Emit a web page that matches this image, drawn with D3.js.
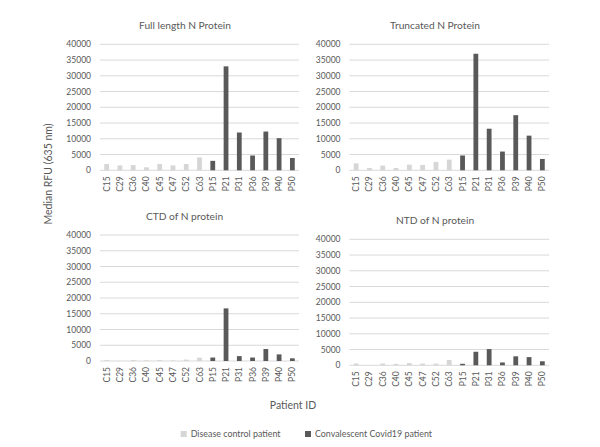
<!DOCTYPE html>
<html>
<head>
<meta charset="utf-8">
<script src="https://cdn.jsdelivr.net/npm/d3@7"></script>
<style>
  body { margin: 0; background: #fff; }
  #wrapper { width: 600px; height: 447px; }
  text { font-family: Lato, "Open Sans", sans-serif; fill: #595959; }
</style>
</head>
<body>
<div id="wrapper"></div>
<script>

// patients (C = disease control, P = convalescent covid19)
const patients = ["C15", "C29", "C36", "C40", "C45", "C47", "C52", "C63",
                  "P15", "P21", "P31", "P36", "P39", "P40", "P50"]
const yTicks = [0, 5000, 10000, 15000, 20000, 25000, 30000, 35000, 40000]

// median RFU values
const fullLength = [2000, 1550, 1650, 950, 2000, 1550, 2000, 4100, 3000, 33000, 12000, 4700, 12300, 10200, 3900]
const truncated  = [2200, 750, 1500, 750, 1800, 1700, 2650, 3400, 4700, 37000, 13200, 5950, 17500, 11000, 3600]
const ctd        = [250, 50, 300, 200, 300, 150, 450, 1050, 1100, 16700, 1550, 1100, 3800, 2100, 850]
const ntd        = [550, 100, 550, 450, 700, 530, 530, 1700, 480, 4300, 5150, 900, 2850, 2600, 1280]

const legendLabels = ["Disease control patient", "Convalescent Covid19 patient"]

function drawPanels() {

  const width = 600
  const height = 447
  const lightColor = "#d6d6d6"
  const darkColor = "#595959"

  const svg = d3.select("#wrapper")
    .append("svg")
      .attr("width", width)
      .attr("height", height)

  // each small chart: title, values and where it sits
  const panels = [
    {title: "Full length N Protein", values: fullLength, x0: 100,   x1: 299, top: 44.3,  bottom: 170.3, titleX: 185,   titleY: 29},
    {title: "Truncated N Protein",   values: truncated,  x0: 349.5, x1: 549, top: 44.3,  bottom: 170.3, titleX: 435,   titleY: 29},
    {title: "CTD of N protein",      values: ctd,        x0: 100,   x1: 299, top: 235,   bottom: 361,   titleX: 184.5, titleY: 219.5},
    {title: "NTD of N protein",      values: ntd,        x0: 349.5, x1: 549, top: 239.3, bottom: 365.3, titleX: 435,   titleY: 224}
  ]

  panels.forEach(p => {
    const g = svg.append("g")

    const xScale = d3.scaleBand()
      .domain(patients)
      .range([p.x0, p.x1])
      .paddingInner(0.64)
      .paddingOuter(0.32)

    const yScale = d3.scaleLinear()
      .domain([0, 40000])
      .range([p.bottom, p.top])

    // gridlines
    g.selectAll(".grid")
      .data(yTicks)
      .join("line")
        .attr("x1", p.x0)
        .attr("x2", p.x1)
        .attr("y1", d => yScale(d))
        .attr("y2", d => yScale(d))
        .attr("stroke", "#d9d9d9")
        .attr("stroke-width", 1)

    // y tick labels
    g.selectAll(".ytick")
      .data(yTicks)
      .join("text")
        .attr("x", p.x0 - 9)
        .attr("y", d => yScale(d) + 3)
        .attr("text-anchor", "end")
        .style("font-size", "8.5px")
        .text(d => d)

    // bars
    g.selectAll("rect")
      .data(p.values)
      .join("rect")
        .attr("x", (d, i) => xScale(patients[i]))
        .attr("width", xScale.bandwidth())
        .attr("y", d => yScale(d))
        .attr("height", d => p.bottom - yScale(d))
        .attr("fill", (d, i) => patients[i][0] == "C" ? lightColor : darkColor)

    // rotated category labels
    g.selectAll(".xlabel")
      .data(patients)
      .join("text")
        .attr("transform", d => "translate(" + (xScale(d) + xScale.bandwidth() / 2 + 3) + "," + (p.bottom + 6) + ") rotate(-90)")
        .attr("text-anchor", "end")
        .style("font-size", "8.5px")
        .text(d => d)

    // panel title
    g.append("text")
      .attr("x", p.titleX)
      .attr("y", p.titleY)
      .attr("text-anchor", "middle")
      .style("font-size", "10.2px")
      .text(p.title)
  })

  // axis titles
  svg.append("text")
    .attr("transform", "translate(52,174) rotate(-90)")
    .attr("text-anchor", "middle")
    .style("font-size", "10.5px")
    .text("Median RFU (635 nm)")

  svg.append("text")
    .attr("x", 293)
    .attr("y", 409)
    .attr("text-anchor", "middle")
    .style("font-size", "10.5px")
    .text("Patient ID")

  // legend
  const legendX = [180.7, 305]
  const legend = svg.append("g")
  legend.selectAll("rect")
    .data(legendLabels)
    .join("rect")
      .attr("x", (d, i) => legendX[i])
      .attr("y", 431)
      .attr("width", 6)
      .attr("height", 6)
      .attr("fill", (d, i) => i == 0 ? lightColor : darkColor)
  legend.selectAll("text")
    .data(legendLabels)
    .join("text")
      .attr("x", (d, i) => legendX[i] + 10)
      .attr("y", 437)
      .style("font-size", "8.9px")
      .text(d => d)
}

window.onload = function () {
  drawPanels()
}
</script>
</body>
</html>
